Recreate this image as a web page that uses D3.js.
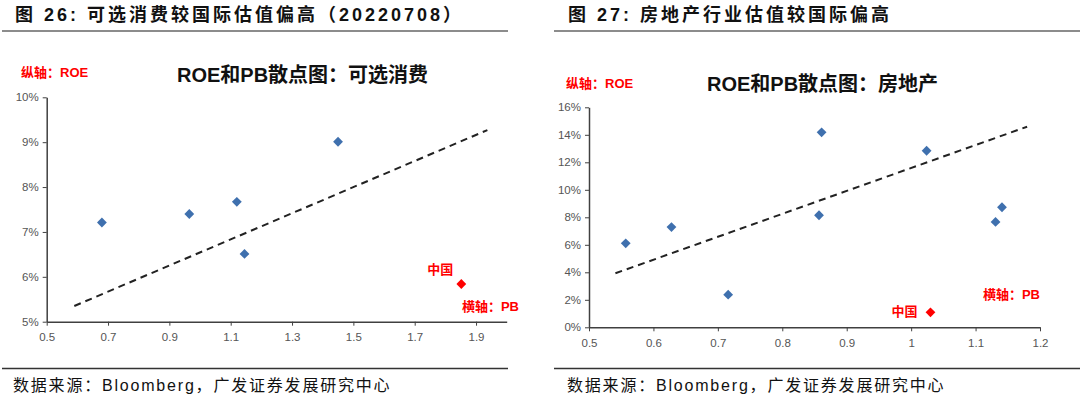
<!DOCTYPE html>
<html><head><meta charset="utf-8">
<script src="https://cdn.jsdelivr.net/npm/d3@7"></script>
<style>
html,body{margin:0;padding:0;background:#fff;}
svg{display:block;}
</style></head>
<body>
<svg id="c" width="1080" height="397"></svg>
<script>
// ---- Data: panel 1 (可选消费) ----
const leftHeader = "图 26:  可选消费较国际估值偏高（20220708）";
const leftTitle = "ROE和PB散点图：可选消费";
const leftPB  = [0.68, 0.965, 1.12, 1.145, 1.45];
const leftROE = [7.21, 7.40, 7.67, 6.51, 9.01];
const leftChinaPB = 1.852, leftChinaROE = 5.84;
const leftTrendPB  = [0.59, 1.937];
const leftTrendROE = [5.35, 9.27];
const leftXTicks = [0.5, 0.7, 0.9, 1.1, 1.3, 1.5, 1.7, 1.9];
const leftYTicks = [5, 6, 7, 8, 9, 10];

// ---- Data: panel 2 (房地产) ----
const rightHeader = "图 27:  房地产行业估值较国际偏高";
const rightTitle = "ROE和PB散点图：房地产";
const rightPB  = [0.557, 0.628, 0.716, 0.861, 0.857, 1.024, 1.131, 1.141];
const rightROE = [6.11, 7.29, 2.37, 14.18, 8.15, 12.84, 7.66, 8.73];
const rightChinaPB = 1.030, rightChinaROE = 1.09;
const rightTrendPB  = [0.541, 1.180];
const rightTrendROE = [3.93, 14.59];
const rightXTicks = [0.5, 0.6, 0.7, 0.8, 0.9, 1.0, 1.1, 1.2];
const rightYTicks = [0, 2, 4, 6, 8, 10, 12, 14, 16];

const source = "数据来源：Bloomberg，广发证券发展研究中心";

const svg = d3.select("#c");
const CJK = "'Liberation Sans','Noto Sans CJK SC',sans-serif";
const BLUE = "#3F70AE", RED = "#FF0000";

function panel(o){
  const g = svg.append("g");
  // header
  g.append("text").attr("x", o.hx).attr("y", 21).text(o.header)
    .attr("font-family", CJK).attr("font-weight", "bold").attr("font-size", 18)
    .attr("letter-spacing", 3).attr("fill", "#111");
  g.append("line").attr("x1", o.lx1).attr("x2", o.lx2).attr("y1", 31).attr("y2", 31)
    .attr("stroke", "#8c8c8c").attr("stroke-width", 2);
  // footer
  g.append("line").attr("x1", o.lx1).attr("x2", o.lx2).attr("y1", 368.5).attr("y2", 368.5)
    .attr("stroke", "#333").attr("stroke-width", 1.5);
  g.append("text").attr("x", o.fx).attr("y", 391).text(source)
    .attr("font-family", CJK).attr("font-size", 16).attr("letter-spacing", 1.8).attr("fill", "#111");

  const x = d3.scaleLinear().domain(o.xd).range(o.xr);
  const y = d3.scaleLinear().domain(o.yd).range(o.yr);

  const xa = g.append("g").attr("transform", `translate(0,${o.yr[0]})`)
    .call(d3.axisBottom(x).tickValues(o.xt).tickSize(4).tickSizeOuter(0).tickFormat(o.xf));
  const ya = g.append("g").attr("transform", `translate(${o.xr[0]},0)`)
    .call(d3.axisLeft(y).tickValues(o.yt).tickSize(4).tickSizeOuter(0).tickFormat(d => d + "%"));
  [xa, ya].forEach(a => {
    a.select(".domain").attr("stroke", "#404040").attr("stroke-width", 1.5);
    a.selectAll(".tick line").attr("stroke", "#404040").attr("stroke-width", 1);
    a.selectAll(".tick text").attr("fill", "#555").attr("font-family", "'Liberation Sans',Arial,sans-serif").attr("font-size", 11.5);
  });
  xa.selectAll(".tick text").attr("dy", "1.1em");
  ya.selectAll(".tick text").attr("dx", "-1px");

  // trend
  const tr = o.tpb.map((v, i) => [v, o.troe[i]]);
  g.append("path").datum(tr)
    .attr("d", d3.line().x(d => x(d[0])).y(d => y(d[1])))
    .attr("stroke", "#222").attr("stroke-width", 2).attr("stroke-dasharray", "7,5").attr("fill", "none");

  const sym = d3.symbol().type(d3.symbolSquare).size(48);
  const pts = o.pb.map((v, i) => [v, o.roe[i]]);
  g.selectAll(null).data(pts).enter().append("path")
    .attr("d", sym).attr("fill", BLUE)
    .attr("transform", d => `translate(${x(d[0])},${y(d[1])}) rotate(45)`);
  g.append("path").attr("d", sym).attr("fill", RED)
    .attr("transform", `translate(${x(o.cpb)},${y(o.croe)}) rotate(45)`);

  // title
  g.append("text").attr("x", o.tx).attr("y", o.ty).text(o.title)
    .attr("font-family", CJK).attr("font-weight", "bold").attr("font-size", 20).attr("fill", "#111");
  // red labels
  const red = (t, xx, yy, anchor) => g.append("text").attr("x", xx).attr("y", yy).text(t)
    .attr("text-anchor", anchor || "start")
    .attr("font-family", CJK).attr("font-weight", "bold").attr("font-size", 13).attr("fill", RED);
  red("纵轴：ROE", o.vx, o.vy);
  red("横轴：PB", o.hbx, o.hby, "end");
  red("中国", x(o.cpb) + o.cdx, y(o.croe) + o.cdy, "end");
}

panel({
  header: leftHeader, hx: 15, lx1: 2, lx2: 508, fx: 13,
  title: leftTitle, tx: 177, ty: 82,
  xd: [0.5, 2.0], xr: [46.7, 506.7], yd: [5, 10], yr: [321.7, 97.3],
  xt: leftXTicks, yt: leftYTicks, xf: d3.format(".1f"),
  pb: leftPB, roe: leftROE, cpb: leftChinaPB, croe: leftChinaROE,
  tpb: leftTrendPB, troe: leftTrendROE,
  vx: 21, vy: 77, hbx: 519, hby: 311, cdx: -8, cdy: -10
});

panel({
  header: rightHeader, hx: 568, lx1: 554, lx2: 1080, fx: 567,
  title: rightTitle, tx: 707, ty: 91,
  xd: [0.5, 1.2], xr: [589, 1040], yd: [0, 16], yr: [327.3, 107.3],
  xt: rightXTicks, yt: rightYTicks, xf: d => d3.format("")(+d.toFixed(1)),
  pb: rightPB, roe: rightROE, cpb: rightChinaPB, croe: rightChinaROE,
  tpb: rightTrendPB, troe: rightTrendROE,
  vx: 566, vy: 88, hbx: 1040, hby: 299, cdx: -13, cdy: 4
});
</script>
</body></html>
